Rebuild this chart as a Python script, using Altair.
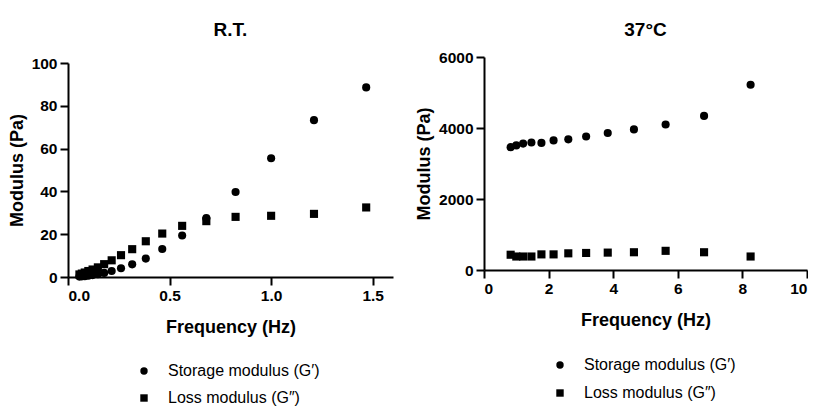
import altair as alt
import pandas as pd

# ---- data ----
SERIES = ["Storage modulus (G′)", "Loss modulus (G″)"]

rt_freq = [1.468, 1.211, 1.0, 0.825, 0.681, 0.562, 0.464, 0.383, 0.316, 0.261,
           0.215, 0.178, 0.147, 0.121, 0.1, 0.0825, 0.0681, 0.0562]
rt_storage = [88.6, 73.3, 55.5, 39.7, 27.5, 19.4, 13.1, 8.6, 5.9, 4.1,
              2.8, 1.9, 1.3, 0.9, 0.6, 0.4, 0.3, 0.2]
rt_loss = [32.5, 29.5, 28.6, 28.1, 26.1, 23.9, 20.3, 16.7, 13.0, 10.2,
           7.8, 6.0, 4.5, 3.5, 2.8, 2.1, 1.6, 1.2]

bt_freq = [0.825, 1.0, 1.211, 1.468, 1.778, 2.154, 2.61, 3.162, 3.831,
           4.642, 5.623, 6.813, 8.254]
bt_storage = [3460, 3510, 3560, 3590, 3580, 3650, 3680, 3760, 3860,
              3960, 4100, 4340, 5220]
bt_loss = [430, 380, 380, 380, 440, 440, 470, 480, 490, 500, 540, 500, 380]

rt_xticks = [0, 0.5, 1.0, 1.5]
rt_yticks = [0, 20, 40, 60, 80, 100]
bt_xticks = [0, 2, 4, 6, 8, 10]
bt_yticks = [0, 2000, 4000, 6000]

FONT = "Liberation Sans"


def long_df(freq, storage, loss):
    rows = [{"freq": f, "modulus": v, "series": SERIES[0]} for f, v in zip(freq, storage)]
    rows += [{"freq": f, "modulus": v, "series": SERIES[1]} for f, v in zip(freq, loss)]
    return pd.DataFrame(rows)


def panel(df, title, title_offset, xdom, xticks, xfmt, ydom, yticks, yrange,
          w, h, legend_y, row_pad):
    return (
        alt.Chart(df, title=alt.TitleParams(
            text=title, font=FONT, fontSize=19, fontWeight="bold",
            color="black", anchor="middle", offset=title_offset))
        .mark_point(filled=True, opacity=1, clip=False)
        .encode(
            x=alt.X("freq:Q", scale=alt.Scale(domain=xdom, nice=False, zero=False),
                    axis=alt.Axis(values=xticks, format=xfmt, title="Frequency (Hz)")),
            y=alt.Y("modulus:Q", scale=alt.Scale(domain=ydom, range=yrange, nice=False),
                    axis=alt.Axis(values=yticks, format="d", title="Modulus (Pa)")),
            shape=alt.Shape("series:N",
                            scale=alt.Scale(domain=SERIES, range=["circle", "square"]),
                            legend=alt.Legend(
                                title=None, orient="none", legendX=68, legendY=legend_y,
                                labelFont=FONT, labelFontSize=16, labelColor="black",
                                symbolSize=55, symbolFillColor="black",
                                symbolStrokeColor="black", symbolStrokeWidth=0,
                                labelOffset=16, rowPadding=row_pad, padding=0)),
            color=alt.value("black"),
            size=alt.value(66),
        )
        .properties(width=w, height=h)
    )


left = panel(long_df(rt_freq, rt_storage, rt_loss), "R.T.", 16.5,
             [0, 1.6], rt_xticks, ".1f", [0, 100], rt_yticks, [220, 6],
             325, 220, 306, 11)
right = panel(long_df(bt_freq, bt_storage, bt_loss), "37°C", 10.5,
              [0, 10], bt_xticks, "d", [0, 6000], bt_yticks, [213, 0],
              323, 213, 300, 12)

chart = (
    alt.concat(left, right, columns=2, spacing=22, align="none")
    .resolve_scale(shape="independent")
    .resolve_legend(shape="independent")
    .properties(padding={"left": 0, "top": 12, "right": 0, "bottom": 0})
    .configure_view(stroke=None)
    .configure_axis(
        grid=False, domainColor="black", domainWidth=2, tickColor="black",
        tickWidth=2, tickSize=8, labelFont=FONT, labelFontSize=15.5,
        labelFontWeight="bold", labelColor="black", labelPadding=3,
        titleFont=FONT, titleFontSize=18, titleFontWeight="bold",
        titleColor="black",
    )
    .configure_axisX(titlePadding=15)
    .configure_axisY(titlePadding=5)
)

chart.save("out.html", embed_options={"renderer": "svg", "actions": False})
